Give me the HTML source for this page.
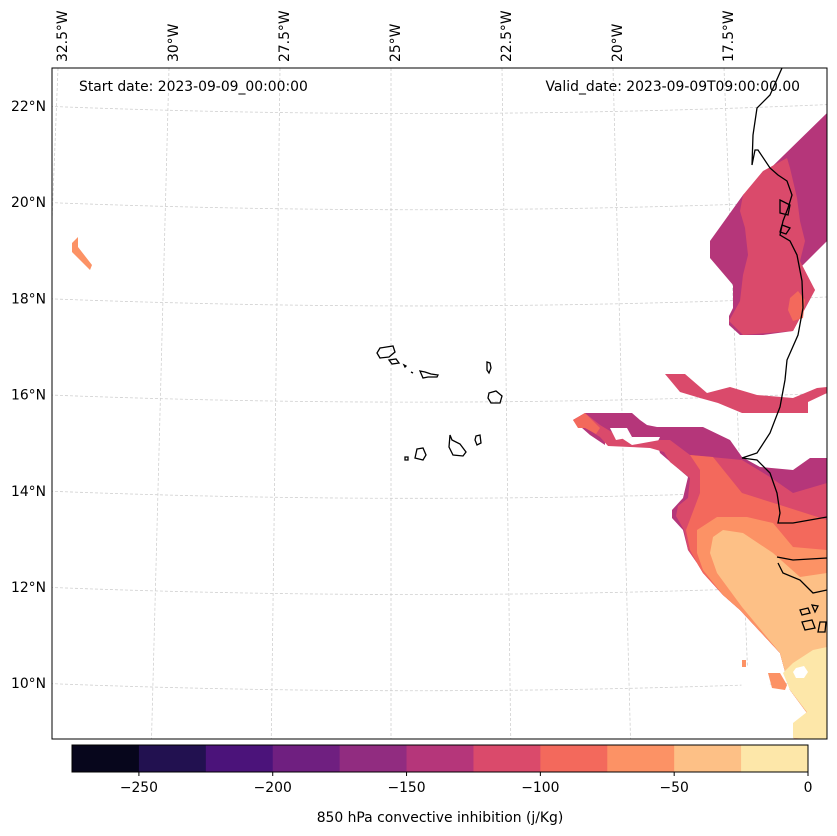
<!DOCTYPE html>
<html><head><meta charset="utf-8"><style>
html,body{margin:0;padding:0;background:#fff;}
svg{display:block;font-family:"DejaVu Sans","Liberation Sans",sans-serif;}
</style></head><body>
<svg id="fig" width="837" height="836" viewBox="0 0 837 836" xmlns="http://www.w3.org/2000/svg">
<defs><clipPath id="mapclip"><rect x="52" y="68" width="775" height="671"/></clipPath></defs>
<g id="grid" clip-path="url(#mapclip)"></g>
<g id="fills" clip-path="url(#mapclip)"></g>
<g id="coast" clip-path="url(#mapclip)" fill="none" stroke="#000" stroke-width="1.3"></g>
<rect x="52" y="68" width="775" height="671" fill="none" stroke="#000" stroke-width="1"/>
<text x="79" y="91" font-size="13.9">Start date: 2023-09-09_00:00:00</text>
<text x="800" y="91" font-size="13.9" text-anchor="end">Valid_date: 2023-09-09T09:00:00.00</text>
<g id="latlabels" font-size="13.9" text-anchor="end"></g>
<g id="lonlabels" font-size="13.9"></g>
<g id="cbar"></g>
<text x="440" y="822" font-size="13.9" text-anchor="middle">850 hPa convective inhibition (j/Kg)</text>
</svg>
<script>
const levels=[-275,-250,-225,-200,-175,-150,-125,-100,-75,-50,-25,0];
const binColors=['#07061c','#221150','#4b137a','#6f1f80','#912c80','#b5367a','#da4a6b','#f3695c','#fc9265','#fdc086','#fde7a9'];
const cbarTicks=[-250,-200,-150,-100,-50,0];
const latTicks=[22,20,18,16,14,12,10];
const lonTicks=[32.5,30,27.5,25,22.5,20,17.5];
const NS='http://www.w3.org/2000/svg';
function mk(t,a,p){const e=document.createElementNS(NS,t);for(const k in a)e.setAttribute(k,a[k]);p.appendChild(e);return e;}
const cx=v=>72+(v+275)/275*736;
const latY=l=>106+(22-l)*48.1;
const lonTop=w=>62+(32.5-w)*44.4;
const grid=document.getElementById('grid');
latTicks.concat([8,24]).forEach(l=>{const y=latY(l);
 const p=mk('path',{d:`M40 ${y} Q440 ${y+16} 840 ${y-2}`,stroke:'#d0d0d0','stroke-width':0.8,'stroke-dasharray':'3,2',fill:'none'},grid);
 });
lonTicks.concat([15]).forEach(w=>{const xt=lonTop(w)-4,xb=xt+(w-25)*(-3.5);
 const p=mk('line',{x1:xt,y1:68,x2:xb,y2:739,stroke:'#d0d0d0','stroke-width':0.8,'stroke-dasharray':'3,2'},grid);
 });
const ll=document.getElementById('latlabels');
latTicks.forEach(l=>{const t=mk('text',{x:46,y:latY(l)+5},ll);t.textContent=l+'°N';
 });
const lo=document.getElementById('lonlabels');
lonTicks.forEach(w=>{const x=lonTop(w)+5;const t=mk('text',{x:x,y:62,transform:`rotate(-90 ${x} 62)`},lo);t.textContent=w+'°W';
 });
const cb=document.getElementById('cbar');
for(let i=0;i<binColors.length;i++){const r=mk('rect',{x:cx(levels[i]),y:745,width:cx(levels[i+1])-cx(levels[i])+0.5,height:27,fill:binColors[i]},cb);
 }
mk('rect',{x:72,y:745,width:736,height:27,fill:'none',stroke:'#000','stroke-width':1},cb);
cbarTicks.forEach(v=>{const x=cx(v);mk('line',{x1:x,y1:772,x2:x,y2:776,stroke:'#000'},cb);
 const t=mk('text',{x:x,y:792,'font-size':13.9,'text-anchor':'middle'},cb);t.textContent=(v<0?'\u2212'+(-v):v);
 });
const C=i=>binColors[i];
const shapes=[
 [5,"827,113 743,195 710,241 710,258 733,285 733,308 729,316 729,325 740,335 763,335 793,331 815,290 800,268 827,241"],
 [6,"763,171 787,158 790,168 797,198 800,221 805,241 800,261 815,290 793,331 743,335 729,321 740,301 743,275 748,255 745,228 740,211 743,195"],
 [5,"813,203 827,203 827,222 815,220"],
 [7,"790,298 798,291 805,300 803,318 793,321 788,310"],
 [8,"72,243 78,237 78,247 92,265 90,270 72,252"],
 [6,"665,374 685,374 707,393 730,387 757,395 793,398 817,388 827,387 827,393 808,402 808,413 742,413 718,403 700,398 680,392"],
 [5,"573,420 585,413 597,413 632,413 640,420 647,425 657,427 703,427 730,440 742,457 760,467 793,470 810,458 827,458 827,740 793,738 793,727 807,713 790,690 780,653 740,610 723,595 703,573 697,563 688,550 683,530 672,518 672,510 683,498 688,477 660,453 657,443 660,437 632,437 605,440 605,445 590,435"],
 [6,"573,420 585,413 600,425 620,437 632,445 660,440 670,440 690,455 742,460 770,477 793,493 827,483 827,740 793,738 793,727 807,713 790,690 780,653 740,610 723,595 703,573 697,563 688,550 684,530 676,516 678,506 688,498 690,478 670,462 664,452 650,448 630,447 608,446 600,437"],
 [7,"573,420 585,413 592,420 600,428 596,434 585,428 578,428"],
 [7,"690,455 713,457 742,493 780,505 827,520 827,740 793,738 793,727 807,713 790,690 780,653 740,610 723,595 703,573 697,563 690,550 686,530 700,493 700,470"],
 [8,"697,530 717,517 747,517 773,523 793,547 827,550 827,740 793,738 793,727 807,713 790,690 780,653 740,610 723,595 703,570 697,553"],
 [9,"713,537 723,530 743,533 773,553 800,577 827,573 827,740 793,738 793,727 807,713 790,690 780,653 742,607 717,573 710,553"],
 [10,"813,650 827,647 827,740 793,738 793,723 807,712 790,690 783,673 793,663"],
 [8,"742,660 746,660 746,667 742,667"],
 [8,"768,673 780,673 787,685 785,690 772,688"]
];
const fills=document.getElementById('fills');
shapes.forEach(s=>{const p=mk('polygon',{points:s[1],fill:C(s[0])},fills);
 });
[["610,428 627,428 632,437 616,440"],["796,668 804,666 808,672 804,678 796,678 793,672"],["742,667 768,667 768,690 790,700 790,740 740,740"]].forEach(h=>{
 const p=mk('polygon',{points:h[0],fill:'#fff'},fills);});
const coast=document.getElementById('coast');
const lines=[
 "M782,68 L770,95 757,108 753,135 752,165 755,150 758,150 770,168 778,175 787,181 792,195 788,208 783,221 780,235 790,241 797,255 802,281 803,308 798,335 787,360 785,380 780,407 770,433 757,453 742,458 757,460 770,473 777,493 780,513 778,523 793,523 810,520 827,517",
 "M777,557 793,560 827,558",
 "M778,563 783,573 800,580 813,593 827,590",
 "M780,200 790,205 788,215 780,213 Z","M782,225 790,228 786,234 780,232 Z"
];
const isl=[
 "M380,348 L393,346 395,352 389,357 380,358 377,353Z","M389,360 L396,359 399,363 392,364Z","M404,365 L406,366 405,367Z","M411,372 L413,373Z",
 "M420,371 L425,372 431,374 438,375 437,377 428,377 423,378Z","M487,362 L490,363 491,368 489,373 487,370Z",
 "M489,393 L496,391 502,396 500,403 491,403 488,398Z","M476,436 L480,435 481,443 477,445 475,440Z",
 "M450,435 L452,440 460,444 466,452 463,456 453,455 449,447Z","M417,449 L423,448 426,455 423,460 415,458Z","M405,457 L408,457 408,460 405,460Z",
 "M800,610 L808,608 810,613 802,615Z","M812,605 L818,606 815,612Z","M802,622 L812,620 815,628 805,630Z","M820,622 L826,622 825,632 818,632Z"
];
lines.concat(isl).forEach(d=>{const p=mk('path',{d:d},coast);});
</script>
</body></html>
